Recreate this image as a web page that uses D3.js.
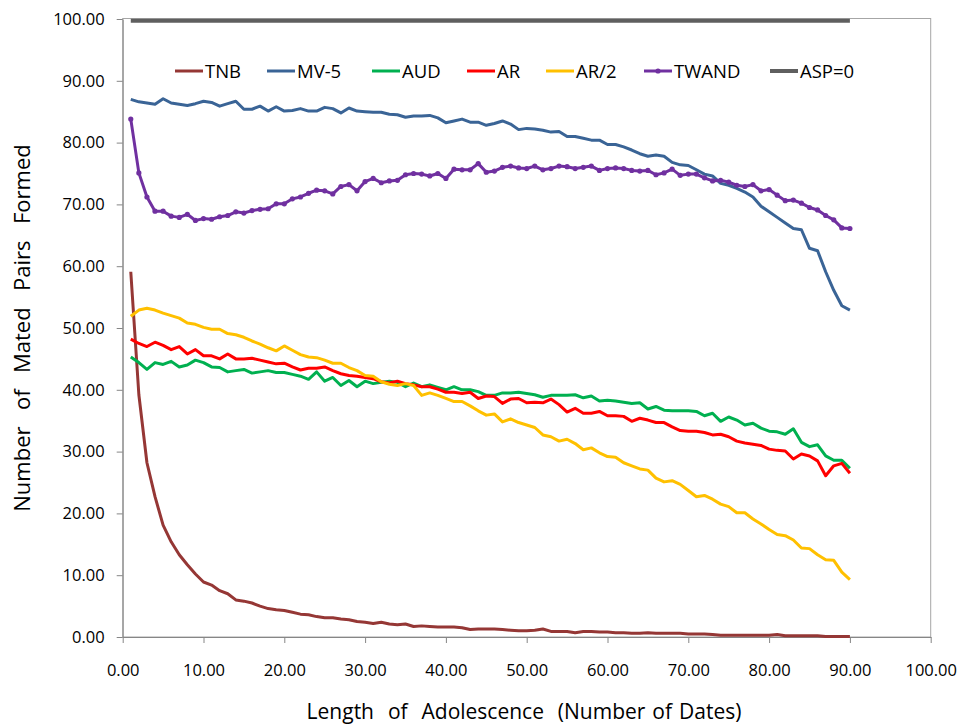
<!DOCTYPE html>
<html>
<head>
<meta charset="utf-8">
<script src="https://cdn.jsdelivr.net/npm/d3@7"></script>
<style>
  body { margin: 0; background: #fff; }
  svg { display: block; font-family: "Open Sans", "Noto Sans", sans-serif; }
  .tick text { fill: #000; font-size: 16.5px; }
  .axis path, .axis line { stroke: #868686; }
</style>
</head>
<body>
<svg id="chart"></svg>
<script>
// ===== Data =====
const days = d3.range(1, 91); // length of adolescence, 1..90 dates

const seriesNames = ["TNB", "MV-5", "AUD", "AR", "AR/2", "TWAND", "ASP=0"];
const seriesColors = ["#953735", "#3a6496", "#00b050", "#ff0000", "#ffc000", "#7030a0", "#5f5f5f"];

const tnb = [
  59.1, 39.2, 28.2, 22.7, 18.1, 15.4, 13.3, 11.7, 10.2, 8.9,
  8.4, 7.5, 7.0, 6.0, 5.8, 5.5, 5.0, 4.6, 4.4, 4.3,
  4.0, 3.7, 3.6, 3.3, 3.1, 3.1, 2.9, 2.8, 2.5, 2.4,
  2.2, 2.4, 2.1, 2.0, 2.1, 1.7, 1.8, 1.7, 1.6, 1.6,
  1.6, 1.5, 1.2, 1.3, 1.3, 1.3, 1.2, 1.1, 1.0, 1.0,
  1.1, 1.3, 0.9, 0.9, 0.9, 0.7, 0.9, 0.9, 0.8, 0.8,
  0.7, 0.7, 0.6, 0.6, 0.7, 0.6, 0.6, 0.6, 0.6, 0.5,
  0.5, 0.5, 0.4, 0.3, 0.3, 0.3, 0.3, 0.3, 0.3, 0.3,
  0.4, 0.2, 0.2, 0.2, 0.2, 0.2, 0.1, 0.1, 0.1, 0.1
];

const mv5 = [
  87.0, 86.6, 86.4, 86.2, 87.1, 86.4, 86.2, 86.0, 86.3, 86.7,
  86.5, 85.9, 86.3, 86.7, 85.4, 85.4, 85.9, 85.1, 85.8, 85.1,
  85.2, 85.5, 85.1, 85.1, 85.7, 85.5, 84.8, 85.6, 85.1, 85.0,
  84.9, 84.9, 84.6, 84.5, 84.1, 84.3, 84.3, 84.4, 84.0, 83.2,
  83.5, 83.8, 83.3, 83.3, 82.8, 83.1, 83.5, 83.0, 82.1, 82.3,
  82.2, 82.0, 81.7, 81.8, 81.0, 81.0, 80.7, 80.4, 80.4, 79.7,
  79.7, 79.3, 78.8, 78.2, 77.8, 78.0, 77.8, 76.8, 76.4, 76.3,
  75.6, 74.9, 74.6, 73.4, 73.1, 72.6, 72.0, 71.2, 69.7, 68.8,
  67.9, 67.0, 66.1, 65.9, 62.9, 62.5, 59.1, 56.1, 53.6, 52.9
];

const aud = [
  45.3, 44.4, 43.3, 44.4, 44.1, 44.6, 43.7, 44.0, 44.8, 44.4,
  43.7, 43.6, 42.9, 43.1, 43.3, 42.7, 42.9, 43.1, 42.8, 42.8,
  42.5, 42.2, 41.7, 42.9, 41.4, 42.0, 40.7, 41.5, 40.5, 41.4,
  41.0, 41.2, 41.4, 41.2, 40.5, 41.1, 40.5, 40.8, 40.4, 40.0,
  40.5, 40.0, 40.0, 39.7, 39.1, 39.1, 39.5, 39.5, 39.6, 39.4,
  39.2, 38.8, 39.1, 39.1, 39.1, 39.2, 38.7, 39.0, 38.2, 38.3,
  38.2, 38.0, 37.8, 37.9, 36.9, 37.3, 36.7, 36.6, 36.6, 36.6,
  36.5, 35.8, 36.2, 34.9, 35.6, 35.1, 34.3, 34.6, 33.8, 33.3,
  33.2, 32.8, 33.7, 31.5, 30.8, 31.1, 29.3, 28.6, 28.6, 27.3
];

const ar = [
  48.2, 47.5, 47.0, 47.7, 47.2, 46.5, 47.0, 45.8, 46.5, 45.5,
  45.5, 45.0, 45.8, 45.0, 45.0, 45.1, 44.8, 44.5, 44.2, 44.3,
  43.7, 43.2, 43.5, 43.5, 43.7, 43.1, 42.6, 42.3, 42.2, 42.0,
  41.8, 41.3, 41.1, 41.4, 41.0, 40.8, 40.5, 40.5, 40.1, 39.6,
  39.6, 39.4, 39.6, 38.6, 39.0, 38.9, 37.8, 38.5, 38.6, 37.9,
  38.0, 37.9, 38.5, 37.6, 36.4, 37.0, 36.2, 36.2, 36.5, 35.8,
  35.8, 35.7, 34.9, 35.4, 35.1, 34.7, 34.7, 34.0, 33.4, 33.3,
  33.3, 33.1, 32.7, 32.8, 32.4, 31.7, 31.4, 31.2, 31.0, 30.4,
  30.2, 30.1, 28.8, 29.6, 29.3, 28.5, 26.1, 27.7, 28.1, 26.5
];

const arHalf = [
  51.9, 52.9, 53.2, 52.9, 52.4, 52.0, 51.6, 50.8, 50.6, 50.1,
  49.8, 49.8, 49.1, 48.9, 48.5, 47.9, 47.4, 46.8, 46.3, 47.1,
  46.4, 45.7, 45.3, 45.2, 44.8, 44.3, 44.3, 43.6, 43.1, 42.3,
  42.2, 41.3, 40.9, 40.7, 41.0, 40.7, 39.1, 39.5, 39.1, 38.6,
  38.1, 38.1, 37.4, 36.6, 35.9, 36.1, 34.8, 35.3, 34.7, 34.3,
  33.9, 32.7, 32.4, 31.7, 32.0, 31.3, 30.3, 30.6, 29.8, 29.2,
  29.1, 28.2, 27.7, 27.2, 27.0, 25.7, 25.1, 25.3, 24.7, 23.7,
  22.7, 22.9, 22.3, 21.5, 21.1, 20.1, 20.1, 19.1, 18.3, 17.4,
  16.6, 16.4, 15.7, 14.4, 14.3, 13.3, 12.5, 12.4, 10.5, 9.3
];

const twand = [
  83.8, 75.1, 71.2, 68.9, 68.9, 68.1, 67.9, 68.4, 67.4, 67.7,
  67.6, 68.0, 68.2, 68.8, 68.6, 69.0, 69.2, 69.3, 70.1, 70.1,
  70.9, 71.2, 71.8, 72.3, 72.2, 71.7, 72.9, 73.2, 72.2, 73.7,
  74.2, 73.5, 73.8, 73.9, 74.8, 75.0, 74.9, 74.6, 75.0, 74.2,
  75.7, 75.6, 75.6, 76.6, 75.2, 75.4, 76.0, 76.2, 75.9, 75.8,
  76.2, 75.6, 75.8, 76.2, 76.1, 75.8, 76.0, 76.2, 75.5, 75.8,
  75.9, 75.8, 75.5, 75.4, 75.5, 74.8, 75.1, 75.7, 74.7, 74.9,
  74.9, 74.3, 73.8, 73.9, 73.6, 73.1, 72.9, 73.2, 72.2, 72.4,
  71.5, 70.6, 70.7, 70.2, 69.5, 69.1, 68.2, 67.5, 66.2, 66.1
];

const asp = [
  99.7, 99.7, 99.7, 99.7, 99.7, 99.7, 99.7, 99.7, 99.7, 99.7,
  99.7, 99.7, 99.7, 99.7, 99.7, 99.7, 99.7, 99.7, 99.7, 99.7,
  99.7, 99.7, 99.7, 99.7, 99.7, 99.7, 99.7, 99.7, 99.7, 99.7,
  99.7, 99.7, 99.7, 99.7, 99.7, 99.7, 99.7, 99.7, 99.7, 99.7,
  99.7, 99.7, 99.7, 99.7, 99.7, 99.7, 99.7, 99.7, 99.7, 99.7,
  99.7, 99.7, 99.7, 99.7, 99.7, 99.7, 99.7, 99.7, 99.7, 99.7,
  99.7, 99.7, 99.7, 99.7, 99.7, 99.7, 99.7, 99.7, 99.7, 99.7,
  99.7, 99.7, 99.7, 99.7, 99.7, 99.7, 99.7, 99.7, 99.7, 99.7,
  99.7, 99.7, 99.7, 99.7, 99.7, 99.7, 99.7, 99.7, 99.7, 99.7
];

const seriesValues = [tnb, mv5, aud, ar, arHalf, twand, asp];
const tickValues = [0, 10, 20, 30, 40, 50, 60, 70, 80, 90, 100];

/* ===== Layout ===== */
const width = 959, height = 724;
const plot = { left: 122.7, right: 930.7, top: 19, bottom: 637 };

const svg = d3.select('#chart')
    .attr('width', width)
    .attr('height', height);

const x = d3.scaleLinear().domain([0, 100]).range([plot.left, plot.right]);
const y = d3.scaleLinear().domain([0, 100]).range([plot.bottom, plot.top]);

// plot area frame (top / right edges are lighter)
svg.append('rect')
    .attr('x', plot.left)
    .attr('y', plot.top - 0.5)
    .attr('width', plot.right - plot.left)
    .attr('height', plot.bottom - plot.top + 0.5)
    .attr('fill', 'none')
    .attr('stroke', '#a6a6a6')
    .attr('stroke-width', 1);

const fmt = d3.format('.2f');

svg.append('g')
    .attr('class', 'axis')
    .attr('transform', `translate(0,${plot.bottom})`)
    .call(d3.axisBottom(x).tickValues(tickValues).tickFormat(fmt).tickSize(6).tickSizeOuter(0).tickPadding(21));

svg.append('g')
    .attr('class', 'axis')
    .attr('transform', `translate(${plot.left},0)`)
    .call(d3.axisLeft(y).tickValues(tickValues).tickFormat(fmt).tickSize(6).tickSizeOuter(0).tickPadding(12));

svg.selectAll('.tick text').attr('font-family', '"Open Sans", sans-serif');

// axis titles
svg.append('text')
    .attr('x', 524)
    .attr('y', 719)
    .attr('text-anchor', 'middle')
    .attr('font-size', 21)
    .attr('word-spacing', 1.5)
    .attr('fill', '#000')
    .attr('xml:space', 'preserve')
    .text('Length  of  Adolescence  (Number of Dates)');

svg.append('text')
    .attr('transform', 'translate(30,328) rotate(-90)')
    .attr('text-anchor', 'middle')
    .attr('font-size', 22)
    .attr('word-spacing', 2.5)
    .attr('fill', '#000')
    .attr('xml:space', 'preserve')
    .text('Number  of  Mated  Pairs  Formed');

/* ===== Lines ===== */
const line = d3.line()
    .x((d, i) => x(days[i]))
    .y(d => y(d));

const lines = svg.append('g');
seriesValues.forEach((vals, k) => {
    lines.append('path')
        .datum(vals)
        .attr('d', line)
        .attr('fill', 'none')
        .attr('stroke', seriesColors[k])
        .attr('stroke-width', k === 6 ? 4 : 3)
        .attr('stroke-linejoin', 'round');
});

// TWAND has small round markers
lines.append('g').selectAll('circle')
    .data(twand)
    .enter().append('circle')
    .attr('cx', (d, i) => x(days[i]))
    .attr('cy', d => y(d))
    .attr('r', 2.6)
    .attr('fill', seriesColors[5]);

/* ===== Legend ===== */
const legendX = [175, 267, 372, 467, 546, 644, 770];
const legendY = 71;
const legend = svg.append('g');
seriesNames.forEach((name, k) => {
    const g = legend.append('g').attr('transform', `translate(${legendX[k]},${legendY})`);
    g.append('line')
        .attr('x1', 0).attr('x2', 28)
        .attr('stroke', seriesColors[k])
        .attr('stroke-width', k === 6 ? 4 : 3);
    if (k === 5) {
        g.append('circle').attr('cx', 14).attr('r', 2.6).attr('fill', seriesColors[k]);
    }
    g.append('text')
        .attr('x', 30)
        .attr('y', 6.5)
        .attr('font-size', 18.5)
        .attr('fill', '#000')
        .text(name);
});
</script>
</body>
</html>
